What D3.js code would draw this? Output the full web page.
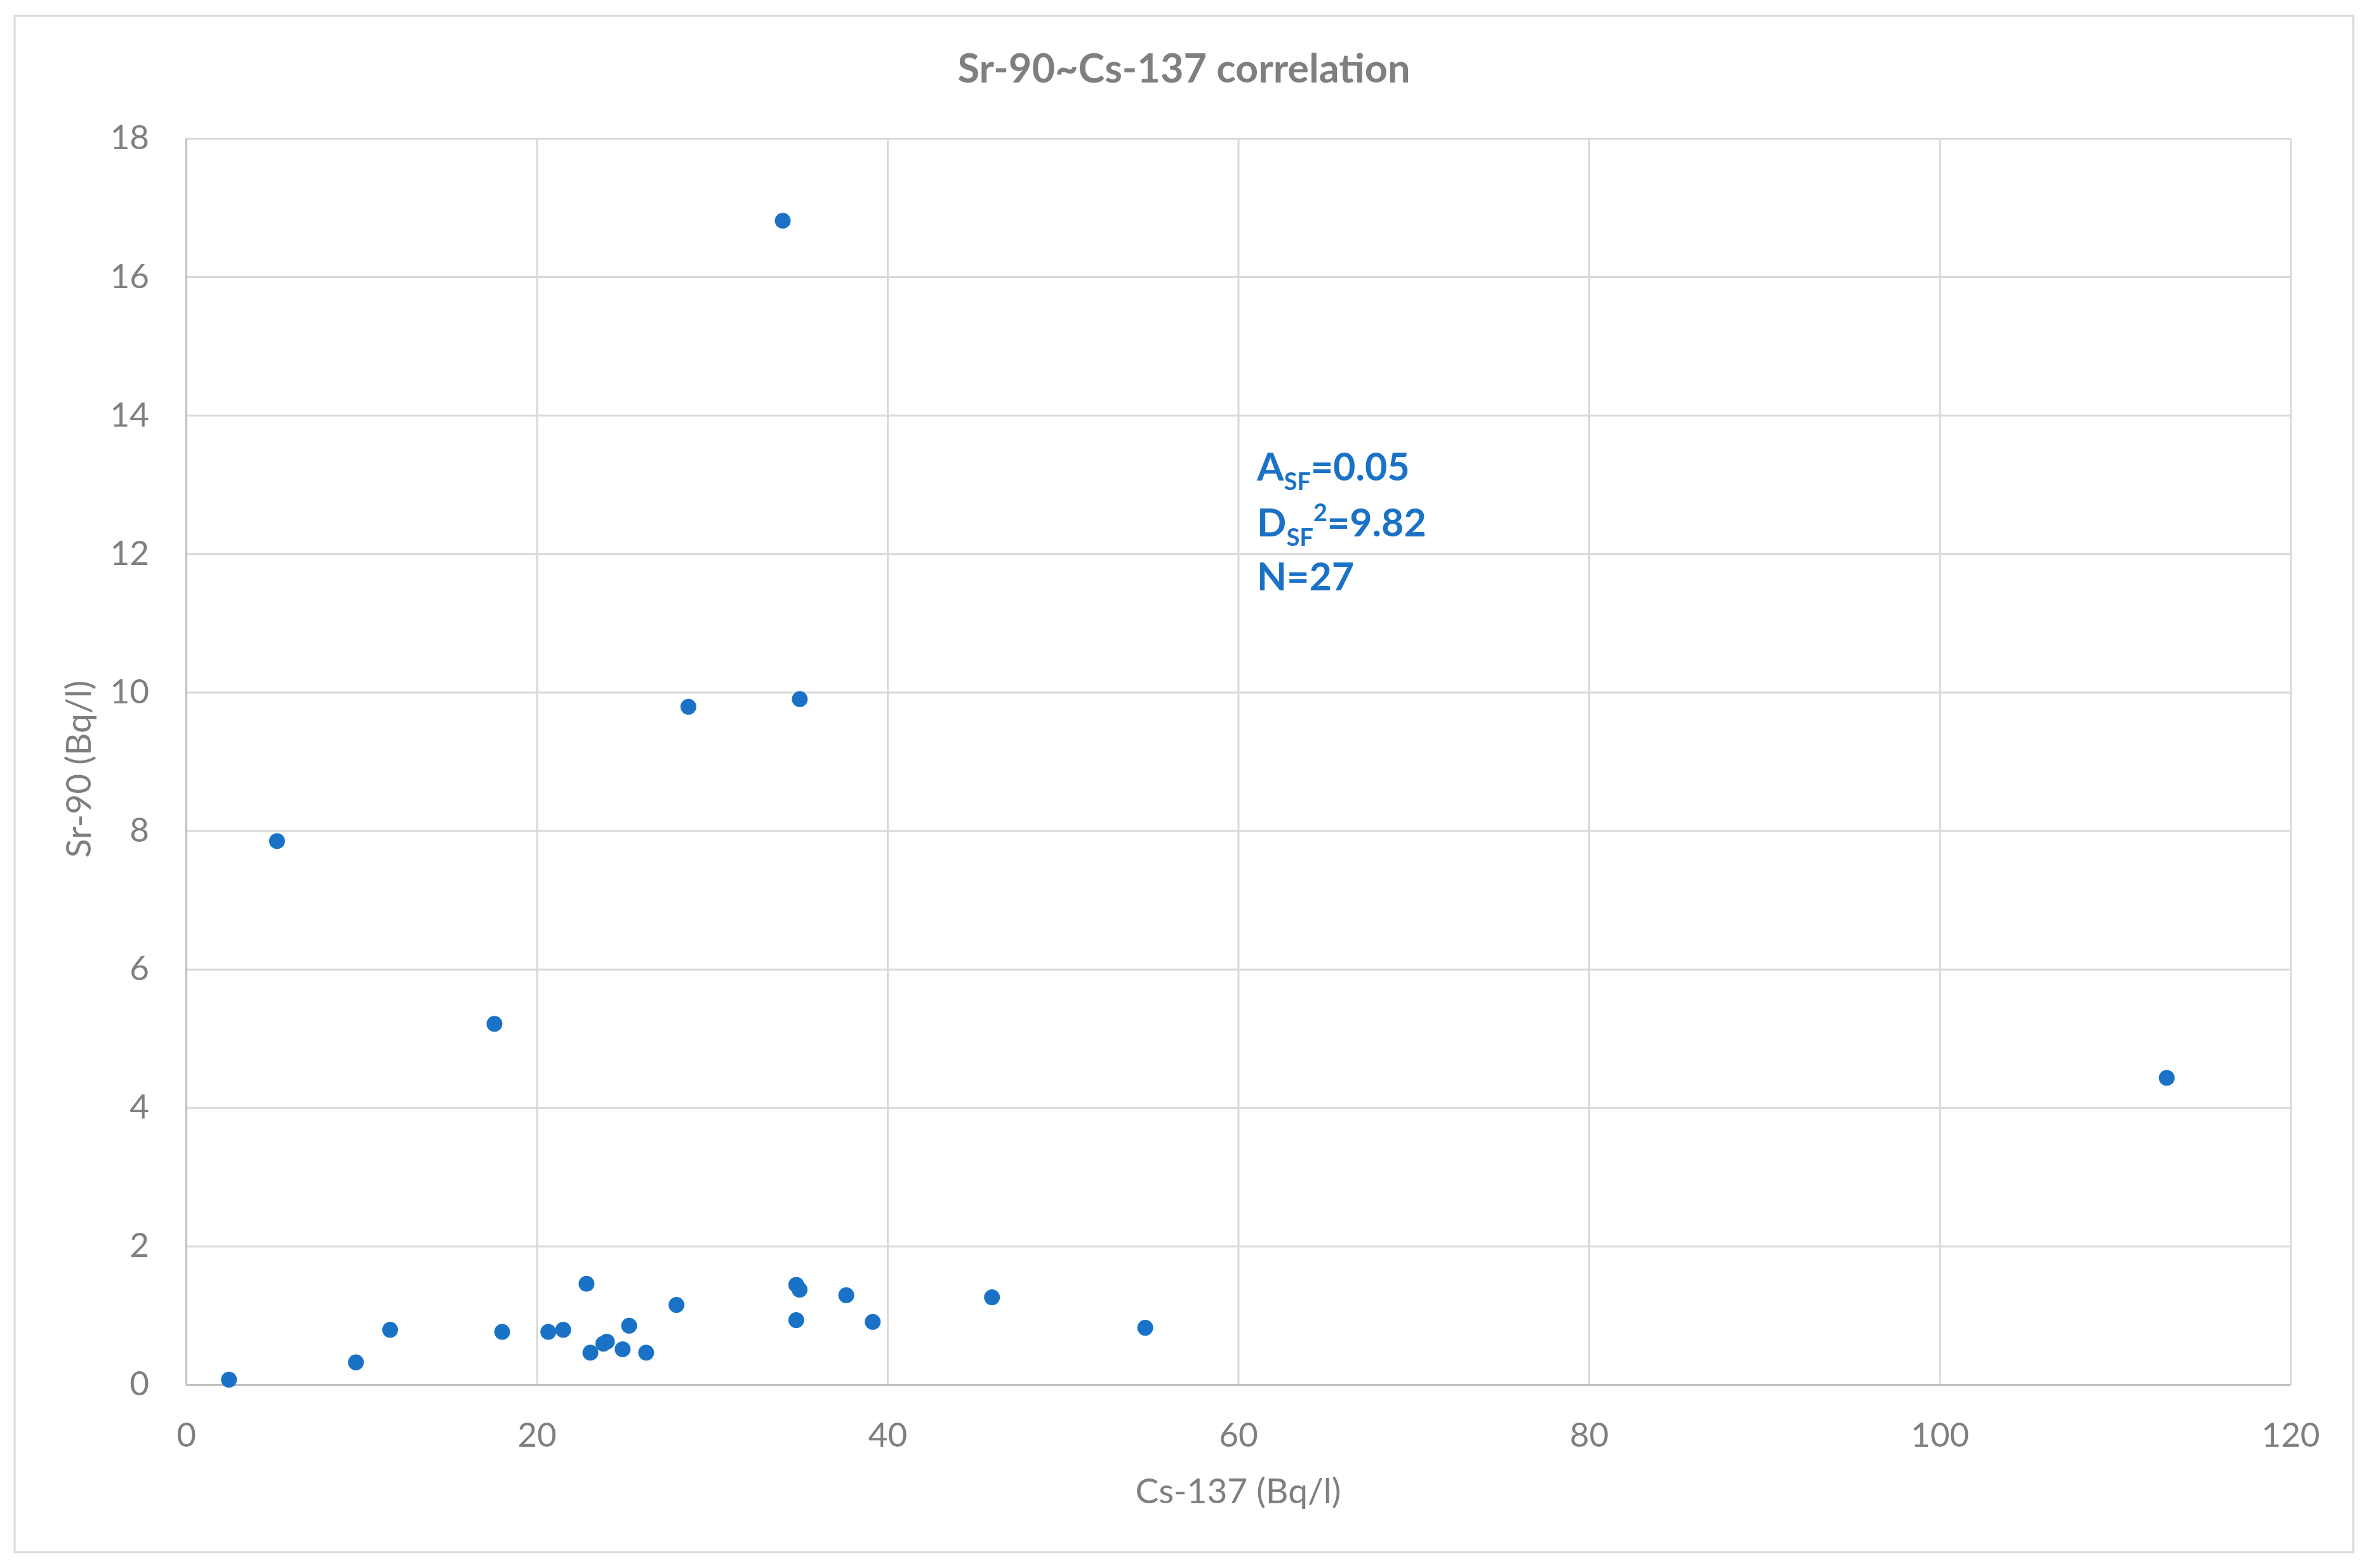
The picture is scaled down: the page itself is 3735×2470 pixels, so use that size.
<!DOCTYPE html>
<html>
<head>
<meta charset="utf-8">
<script src="https://cdn.jsdelivr.net/npm/d3@7/dist/d3.min.js"></script>
<style>
  html, body { margin: 0; padding: 0; background: #fff; }
  body { font-family: Lato, "Open Sans", sans-serif; }
</style>
</head>
<body>
<div id="chart"></div>
<script>
// Cs-137 (x) and Sr-90 (y), Bq/l
var cs137 = [2.45, 9.69, 11.64, 18.03, 20.66, 21.51, 22.84, 23.06, 23.8, 24.0,
  24.9, 25.27, 26.24, 27.97, 34.8, 34.99, 34.8, 37.65, 39.16, 45.96,
  54.7, 5.19, 17.59, 28.65, 35.0, 34.03, 112.95];
var sr90 = [0.07, 0.32, 0.79, 0.76, 0.76, 0.79, 1.455, 0.46, 0.59, 0.62,
  0.51, 0.85, 0.46, 1.15, 1.44, 1.37, 0.93, 1.29, 0.905, 1.26,
  0.82, 7.85, 5.21, 9.79, 9.90, 16.81, 4.43];

var xTicks = [0, 20, 40, 60, 80, 100, 120];
var yTicks = [0, 2, 4, 6, 8, 10, 12, 14, 16, 18];

var title = "Sr-90~Cs-137 correlation";
var xTitle = "Cs-137 (Bq/l)";
var yTitle = "Sr-90 (Bq/l)";

var width = 3735, height = 2470;
var margin = { left: 293, right: 3735 - 3608, top: 218, bottom: 2470 - 2181 };
var w = width - margin.left - margin.right;
var h = height - margin.top - margin.bottom;

var grey = "#7f7f7f";
var blue = "#1a72c7";

var svg = d3.select("#chart")
  .append("svg")
  .attr("width", width)
  .attr("height", height);

svg.append("rect")
  .attr("width", width).attr("height", height)
  .attr("fill", "#fff");

// chart border
svg.append("rect")
  .attr("x", 23).attr("y", 25)
  .attr("width", 3707 - 23).attr("height", 2445 - 25)
  .attr("fill", "none")
  .attr("stroke", "#d9d9d9")
  .attr("stroke-width", 3);

var g = svg.append("g")
  .attr("transform", `translate(${margin.left},${margin.top})`);

var x = d3.scaleLinear().domain([0, 120]).range([0, w]);
var y = d3.scaleLinear().domain([0, 18]).range([h, 0]);

// gridlines
g.append("g")
  .call(d3.axisLeft(y).tickValues(yTicks).tickSize(-w).tickFormat(""))
  .call(function(a) {
    a.select(".domain").remove();
    a.selectAll("line").attr("stroke", "#d9d9d9").attr("stroke-width", 3);
  });
g.append("g")
  .attr("transform", `translate(0,${h})`)
  .call(d3.axisBottom(x).tickValues(xTicks).tickSize(h).tickFormat("").tickSizeOuter(0))
  .call(function(a) {
    a.select(".domain").remove();
    a.selectAll("line").attr("y2", -h).attr("stroke", "#d9d9d9").attr("stroke-width", 3);
  });

// axes with labels
var yAxis = g.append("g")
  .call(d3.axisLeft(y).tickValues(yTicks).tickSize(0).tickPadding(58).tickSizeOuter(0));
var xAxis = g.append("g")
  .attr("transform", `translate(0,${h})`)
  .call(d3.axisBottom(x).tickValues(xTicks).tickSize(0).tickPadding(60).tickSizeOuter(0));

[xAxis, yAxis].forEach(function(a) {
  a.select(".domain").attr("stroke", "#bfbfbf").attr("stroke-width", 3);
  a.selectAll("text")
    .attr("fill", grey)
    .style("font-family", "Lato, sans-serif")
    .style("font-size", "53px");
});

// points
var points = cs137.map(function(d, i) { return { x: d, y: sr90[i] }; });
g.selectAll("circle.pt")
  .data(points)
  .join("circle")
  .attr("class", "pt")
  .attr("cx", function(d) { return x(d.x); })
  .attr("cy", function(d) { return y(d.y); })
  .attr("r", 12.5)
  .attr("fill", blue);

// title
svg.append("text")
  .attr("x", (23 + 3707) / 2)
  .attr("y", 130)
  .attr("text-anchor", "middle")
  .attr("fill", grey)
  .style("font-family", "Lato, sans-serif")
  .style("font-weight", "bold")
  .style("font-size", "63px")
  .text(title);

// axis titles
svg.append("text")
  .attr("x", margin.left + w / 2)
  .attr("y", 2368)
  .attr("text-anchor", "middle")
  .attr("fill", grey)
  .style("font-family", "Lato, sans-serif")
  .style("font-size", "55px")
  .text(xTitle);

svg.append("text")
  .attr("transform", `translate(143,${margin.top + h / 2 + 12}) rotate(-90)`)
  .attr("text-anchor", "middle")
  .attr("fill", grey)
  .style("font-family", "Lato, sans-serif")
  .style("font-size", "55px")
  .text(yTitle);

// annotation box
var ann = svg.append("g")
  .attr("transform", "translate(1980,0)")
  .attr("fill", blue)
  .style("font-family", "Lato, sans-serif")
  .style("font-weight", "bold")
  .style("font-size", "61px");

var t1 = ann.append("text").attr("x", 0).attr("y", 757);
t1.append("tspan").text("A");
t1.append("tspan").attr("dy", 15).style("font-size", "38px").text("SF");
t1.append("tspan").attr("dy", -15).text("=0.05");

var t2 = ann.append("text").attr("x", 0).attr("y", 845);
t2.append("tspan").text("D");
t2.append("tspan").attr("dy", 15).style("font-size", "38px").text("SF");
t2.append("tspan").attr("dy", -39).style("font-size", "38px").text("2");
t2.append("tspan").attr("dy", 24).text("=9.82");

ann.append("text").attr("x", 0).attr("y", 930).text("N=27");
</script>
</body>
</html>
